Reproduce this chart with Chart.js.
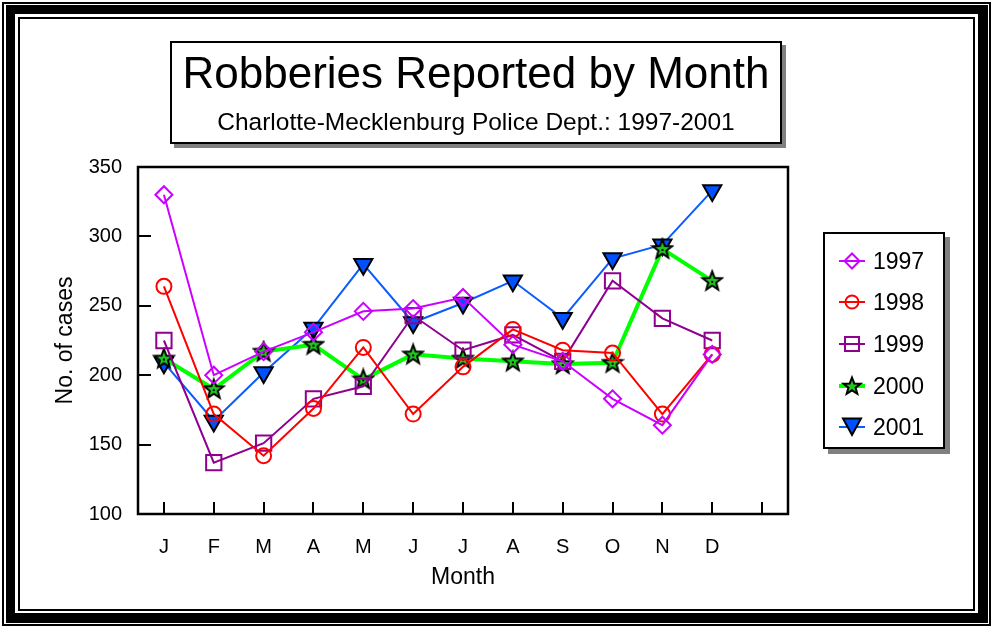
<!DOCTYPE html>
<html><head><meta charset="utf-8">
<script src="https://cdn.jsdelivr.net/npm/chart.js@4.4.0/dist/chart.umd.min.js"></script>
<style>
html,body{margin:0;padding:0;background:#fff;}
body{width:992px;height:627px;position:relative;overflow:hidden;font-family:"Liberation Sans",Arial,sans-serif;color:#000;}
.abs{position:absolute;box-sizing:border-box;}
#f1{left:2px;top:2px;width:989px;height:624px;border:2px solid #000;}
#f2{left:6px;top:5px;width:982px;height:618px;border-style:solid;border-color:#000;border-width:9px 10px 10px 9px;}
#f3{left:18px;top:17px;width:957px;height:594px;border:2px solid #000;}
#c{position:absolute;left:0;top:0;}
#tb{left:170px;top:41px;width:612px;height:103px;border:2px solid #000;background:#fff;box-shadow:4px 4px 0 #808080;}
#t1{left:170px;top:48px;width:612px;text-align:center;font-size:44px;line-height:50px;white-space:nowrap;}
#t2{left:170px;top:108px;width:612px;text-align:center;font-size:24.5px;line-height:28px;white-space:nowrap;}
#lg{left:823px;top:232px;width:122px;height:217px;border:2px solid #000;background:#fff;box-shadow:5px 5px 0 #808080;}
.lt{position:absolute;left:873px;font-size:23px;line-height:26px;white-space:nowrap;}
.lm{position:absolute;left:837px;}
</style>
</head>
<body>
<div id="f1" class="abs"></div>
<div id="f2" class="abs"></div>
<div id="f3" class="abs"></div>
<canvas id="c" width="992" height="627"></canvas>
<div id="tb" class="abs"></div>
<div id="t1" class="abs">Robberies Reported by Month</div>
<div id="t2" class="abs">Charlotte-Mecklenburg Police Dept.: 1997-2001</div>
<div id="lg" class="abs"></div>
<div id="legendItems"></div>
<script>
// ---------- data ----------
const months = ['J','F','M','A','M','J','J','A','S','O','N','D'];
const seriesNames = ['1997','1998','1999','2000','2001'];
const yTickValues = [100,150,200,250,300,350];
const s1997 = [330, 200, 217, 231, 246, 248, 256, 222, 210, 183, 164, 215];
const s1998 = [264, 172, 142, 176, 220, 172, 206, 233, 218, 216, 172, 215];
const s1999 = [225, 137, 151, 183, 192, 243, 218, 229, 210, 268, 241, 225];
const s2000 = [212, 190, 217, 222, 197, 215, 212, 210, 208, 209, 291, 268];
const s2001 = [209, 167, 202, 234, 280, 238, 252, 268, 241, 284, 294, 333];
const xAxisTitle = 'Month';
const yAxisTitle = 'No. of cases';

// ---------- styles ----------
const colors = {
  '1997': '#cc00ff', '1998': '#ff0000', '1999': '#900090', '2000': '#00ff00', '2001': '#0a5cff'
};

function starPath(ctx, cx, cy, ro, ri) {
  ctx.beginPath();
  for (let i = 0; i < 10; i++) {
    const r = i % 2 === 0 ? ro : ri;
    const a = -Math.PI / 2 + i * Math.PI / 5;
    const px = cx + r * Math.cos(a), py = cy + r * Math.sin(a);
    if (i === 0) ctx.moveTo(px, py); else ctx.lineTo(px, py);
  }
  ctx.closePath();
}
const starCanvas = document.createElement('canvas');
starCanvas.width = 24; starCanvas.height = 24;
(function(){
  const g = starCanvas.getContext('2d');
  starPath(g, 12, 12.5, 10, 4.2);
  g.fillStyle = '#1fc81f'; g.fill();
  g.lineWidth = 2; g.strokeStyle = '#000'; g.lineJoin = 'miter'; g.stroke();
  g.fillStyle = '#000';
  g.fillRect(11, 12, 2, 2);
})();

const pts = arr => arr.map((v, i) => ({x: i + 1, y: v}));
const openPoint = (c) => ({pointBorderColor: c, pointBackgroundColor: 'rgba(0,0,0,0)', pointBorderWidth: 2});

const datasets = [
  Object.assign({label: seriesNames[0], data: pts(s1997), borderColor: colors['1997'], borderWidth: 2,
    pointStyle: 'rectRot', pointRadius: 8.5}, openPoint(colors['1997'])),
  Object.assign({label: seriesNames[1], data: pts(s1998), borderColor: colors['1998'], borderWidth: 2,
    pointStyle: 'circle', pointRadius: 7.5}, openPoint(colors['1998'])),
  Object.assign({label: seriesNames[2], data: pts(s1999), borderColor: colors['1999'], borderWidth: 2,
    pointStyle: 'rect', pointRadius: 10.8}, openPoint(colors['1999'])),
  {label: seriesNames[3], data: pts(s2000), borderColor: colors['2000'], borderWidth: 4,
    pointStyle: starCanvas, pointRadius: 10},
  {label: seriesNames[4], data: pts(s2001), borderColor: colors['2001'], borderWidth: 2,
    pointStyle: 'triangle', pointRotation: 180, pointRadius: 10.5,
    pointBackgroundColor: '#0050ff', pointBorderColor: '#000', pointBorderWidth: 2}
];
datasets.forEach(d => { d.tension = 0; d.fill = false; });

const frameTicks = {
  id: 'frameTicks',
  beforeDatasetsDraw(chart) {
    const {ctx, chartArea: ca, scales: {x, y}} = chart;
    ctx.save();
    ctx.strokeStyle = '#000';
    ctx.lineWidth = 2;
    ctx.beginPath();
    for (let i = 1; i <= months.length + 1; i++) {
      const px = Math.round(x.getPixelForValue(i));
      ctx.moveTo(px, ca.bottom); ctx.lineTo(px, ca.bottom - 12);
    }
    yTickValues.forEach(v => {
      const py = Math.round(y.getPixelForValue(v));
      ctx.moveTo(ca.left, py); ctx.lineTo(ca.left + 13, py);
    });
    ctx.stroke();
    ctx.lineWidth = 2.5;
    ctx.strokeRect(ca.left, ca.top, ca.right - ca.left, ca.bottom - ca.top);
    ctx.restore();
  }
};

const tickFont = {family: '"Liberation Sans", Arial, sans-serif', size: 20};
const titleFont = {family: '"Liberation Sans", Arial, sans-serif', size: 23};

new Chart(document.getElementById('c'), {
  type: 'line',
  data: {datasets},
  plugins: [frameTicks],
  options: {
    responsive: false,
    devicePixelRatio: 1,
    animation: false,
    events: [],
    layout: {padding: {left: 40, top: 167, right: 204, bottom: 36}},
    plugins: {legend: {display: false}, tooltip: {enabled: false}, title: {display: false}},
    scales: {
      x: {
        type: 'linear', min: 0.48, max: months.length + 1.52,
        grid: {display: false, drawTicks: false}, border: {display: false},
        afterBuildTicks: s => { s.ticks = months.concat(['']).map((_, i) => ({value: i + 1})); },
        ticks: {autoSkip: false, maxRotation: 0, padding: 21, color: '#000', font: tickFont,
          callback: v => months[v - 1] || ''},
        title: {display: true, text: xAxisTitle, color: '#000', font: titleFont, padding: {top: 0, bottom: 0}},
        afterFit: s => { s.height = 77; }
      },
      y: {
        min: yTickValues[0], max: yTickValues[yTickValues.length - 1],
        grid: {display: false, drawTicks: false}, border: {display: false},
        afterBuildTicks: s => { s.ticks = yTickValues.map(v => ({value: v})); },
        ticks: {padding: 16, color: '#000', font: tickFont},
        title: {display: true, text: yAxisTitle, color: '#000', font: titleFont, padding: {top: 12, bottom: 0}},
        afterFit: s => { s.width = 98; }
      }
    }
  }
});

// ---------- legend (HTML) ----------
const rowY = [261, 302, 344, 386, 427];
const svgNS = 'http://www.w3.org/2000/svg';
const holder = document.getElementById('legendItems');
seriesNames.forEach((name, i) => {
  const c = colors[name];
  const cy = rowY[i];
  const svg = document.createElementNS(svgNS, 'svg');
  svg.setAttribute('width', 30); svg.setAttribute('height', 26);
  svg.setAttribute('class', 'lm');
  svg.style.top = (cy - 13) + 'px';
  let inner = `<line x1="2" y1="13" x2="28" y2="13" stroke="${c}" stroke-width="${name === '2000' ? 4 : 2}"/>`;
  if (name === '1997') inner += `<polygon points="15,5.5 22.5,13 15,20.5 7.5,13" fill="none" stroke="${c}" stroke-width="2"/>`;
  if (name === '1998') inner += `<circle cx="15" cy="13" r="6.5" fill="none" stroke="${c}" stroke-width="2"/>`;
  if (name === '1999') inner += `<rect x="8" y="6" width="14" height="14" fill="none" stroke="${c}" stroke-width="2"/>`;
  if (name === '2000') {
    let p = [];
    for (let k = 0; k < 10; k++) {
      const r = k % 2 === 0 ? 9 : 3.8, a = -Math.PI / 2 + k * Math.PI / 5;
      p.push((15 + r * Math.cos(a)).toFixed(2) + ',' + (13.5 + r * Math.sin(a)).toFixed(2));
    }
    inner += `<polygon points="${p.join(' ')}" fill="#1fc81f" stroke="#000" stroke-width="2"/>`;
  }
  if (name === '2001') inner += `<polygon points="6,4.5 24,4.5 15,21" fill="#0050ff" stroke="#000" stroke-width="2"/>`;
  svg.innerHTML = inner;
  holder.appendChild(svg);
  const t = document.createElement('div');
  t.className = 'lt';
  t.style.top = (cy - 13) + 'px';
  t.textContent = name;
  holder.appendChild(t);
});
</script>
</body></html>
